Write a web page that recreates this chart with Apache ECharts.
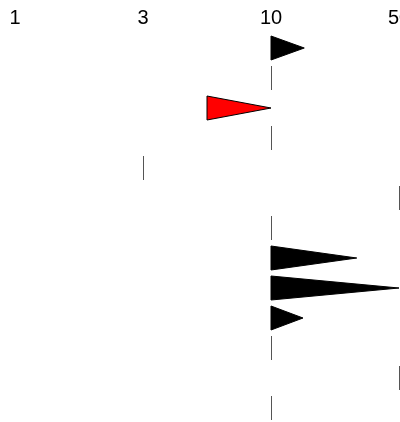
<!DOCTYPE html>
<html>
<head>
<meta charset="utf-8">
<script src="https://cdn.jsdelivr.net/npm/echarts@6/dist/echarts.min.js"></script>
<style>html,body{margin:0;padding:0;background:#fff;}#c{width:400px;height:422px;}</style>
</head>
<body>
<div id="c"></div>
<script>
const rows = ['r1','r2','r3','r4','r5','r6','r7','r8','r9','r10','r11','r12','r13'];
const startVals = [2, 2, 1.5, 2, 1, 3, 2, 2, 2, 2, 2, 3, 2];
const endVals   = [2.26, 2, 2, 2, 1, 3, 2, 2.67, 3, 2.25, 2, 3, 2];
const fillColors = ['#000000','#000000','#ff0000','#000000','#000000','#000000','#000000','#000000','#000000','#000000','#000000','#000000','#000000'];
const tickLabels = ['1','3','10','50'];

const chart = echarts.init(document.getElementById('c'), null, {renderer:'canvas'});
const data = rows.map((r,i)=>[i, startVals[i], endVals[i]]);
chart.setOption({
  animation:false,
  grid:{left:15, right:1, top:33, height:390, containLabel:false, outerBoundsMode:'none'},
  xAxis:{
    type:'value', position:'top', min:0, max:3, interval:1,
    axisLine:{show:false}, axisTick:{show:false}, splitLine:{show:false},
    axisLabel:{formatter:v=>tickLabels[Math.round(v)], fontSize:20, color:'#000', fontFamily:'Liberation Sans, Arial', margin:5, hideOverlap:false}
  },
  yAxis:{type:'category', data:rows, inverse:true, show:false},
  series:[{
    type:'custom',
    data:data,
    encode:{x:[1,2], y:0},
    clip:false,
    renderItem:function(params, api){
      const idx = api.value(0);
      const s = api.value(1), e = api.value(2);
      const y = api.coord([s, idx])[1];
      const bandH = api.size([0,1])[1];
      const h = bandH*0.8;
      const x0 = api.coord([s, idx])[0];
      const x1 = api.coord([e, idx])[0];
      if (s === e) {
        const xs = Math.round(x0)+0.5;
        return {type:'line', shape:{x1:xs, y1:y-h/2, x2:xs, y2:y+h/2}, style:{stroke:'#555', lineWidth:1}};
      }
      return {type:'polygon', shape:{points:[[x0,y-h/2],[x0,y+h/2],[x1,y]]}, style:{fill:fillColors[idx], stroke:'#000', lineWidth:1}};
    }
  }]
});
</script>
</body>
</html>
